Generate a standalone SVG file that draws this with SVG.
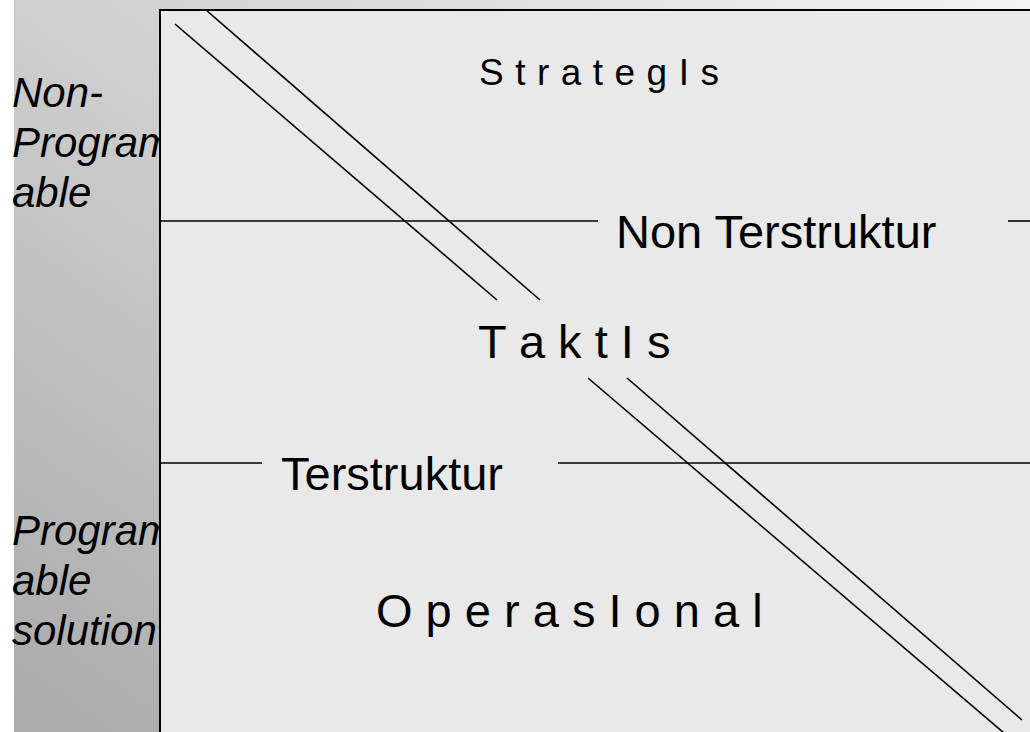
<svg xmlns="http://www.w3.org/2000/svg" width="1030" height="732" viewBox="0 0 1030 732">
<defs>
<linearGradient id="bg" x1="0" y1="1" x2="1" y2="0">
<stop offset="0" stop-color="#aaaaaa"/>
<stop offset="1" stop-color="#f3f3f3"/>
</linearGradient>
</defs>
<style>
.t{font-family:"Liberation Sans",Arial,sans-serif;fill:#000}
.big{font-size:47px}
.side{font-size:42px;font-style:italic}
.ln{stroke:#000;stroke-width:1.6;fill:none}
</style>
<rect x="0" y="0" width="1030" height="732" fill="#ffffff"/>
<rect x="14" y="0" width="1016" height="732" fill="url(#bg)"/>
<g id="side-labels">
<text class="t side" x="12" y="107">Non-</text>
<text class="t side" x="12" y="157">Program</text>
<text class="t side" x="12" y="207">able</text>
<text class="t side" x="12" y="545">Program</text>
<text class="t side" x="12" y="595">able</text>
<text class="t side" x="12" y="645">solution</text>
</g>
<g id="frame">
<rect x="160" y="10" width="880" height="740" fill="#e9e9e9" stroke="#000" stroke-width="2"/>
</g>
<g id="connectors">
<line class="ln" x1="175" y1="24" x2="497" y2="300"/>
<line class="ln" x1="588" y1="378" x2="1004" y2="733"/>
<line class="ln" x1="206" y1="10" x2="540" y2="300"/>
<line class="ln" x1="627" y1="378" x2="1022" y2="720"/>
<line class="ln" x1="160" y1="221" x2="598" y2="221"/>
<line class="ln" x1="1008" y1="221" x2="1030" y2="221"/>
<line class="ln" x1="160" y1="463" x2="262" y2="463"/>
<line class="ln" x1="558" y1="463" x2="1030" y2="463"/>
</g>
<g id="strategis"><text class="t" style="font-size:37px;letter-spacing:0.6px" x="479" y="85">S t r a t e g I s</text></g>
<g id="non-terstruktur"><text class="t big" x="616" y="248">Non Terstruktur</text></g>
<g id="taktis"><text class="t big" x="478" y="358">T a k t I s</text></g>
<g id="terstruktur"><text class="t big" x="281" y="490">Terstruktur</text></g>
<g id="operasional"><text class="t big" x="376" y="627">O p e r a s I o n a l</text></g>
</svg>
